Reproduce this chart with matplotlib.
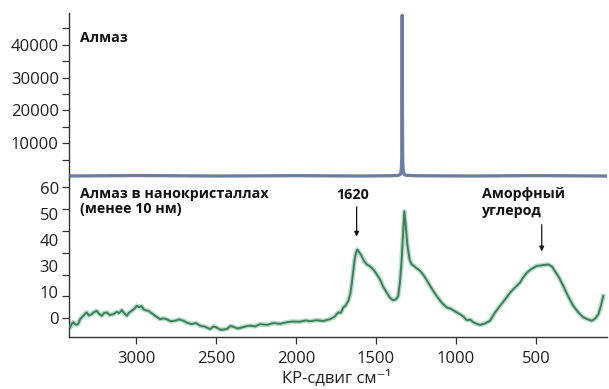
import matplotlib
matplotlib.use("Agg")
import matplotlib.pyplot as plt

plt.rcParams['font.family'] = ['Open Sans', 'DejaVu Sans']

# ---- data ----
diamond_shift = [3422, 3000, 2500, 2000, 1600, 1400, 1360, 1348, 1342, 1339, 1337, 1336,
                 1335, 1333, 1330, 1324, 1310, 1250, 900, 500, 56]
diamond_int = [0, 150, 0, 100, 0, 80, 200, 500, 1500, 5000, 20000, 49000,
               20000, 5000, 1500, 500, 200, 80, 0, 120, 0]

nano_shift = [3420, 3412, 3400, 3392, 3375, 3361, 3350, 3339, 3325, 3308, 3295, 3277, 3262, 3246,
              3230, 3214, 3200, 3183, 3165, 3142, 3120, 3105, 3089, 3075, 3058, 3045, 3027, 3010,
              2995, 2980, 2965, 2954, 2940, 2923, 2900, 2881, 2865, 2850, 2830, 2808, 2785, 2756,
              2730, 2704, 2680, 2652, 2625, 2600, 2570, 2537, 2515, 2496, 2470, 2433, 2410, 2392,
              2365, 2339, 2310, 2287, 2255, 2225, 2180, 2142, 2100, 2058, 2020, 1975, 1940, 1912,
              1871, 1830, 1787, 1760, 1736, 1720, 1704, 1690, 1673, 1660, 1652, 1642, 1635, 1625,
              1617, 1605, 1589, 1575, 1558, 1540, 1517, 1495, 1475, 1455, 1433, 1415, 1396, 1375,
              1361, 1350, 1340, 1330, 1323, 1315, 1304, 1290, 1277, 1262, 1246, 1230, 1214, 1195,
              1173, 1150, 1121, 1090, 1058, 1030, 1006, 975, 950, 933, 910, 892, 870, 850, 820,
              787, 760, 725, 695, 662, 630, 600, 580, 558, 530, 496, 460, 423, 400, 381, 355, 329,
              300, 267, 235, 204, 175, 152, 130, 110, 95, 79]
nano_int = [-2.8, -3.6, -2.0, -1.6, -2.6, -2.2, -0.5, 0.3, 1.2, 2.2, 1.0, 1.5, 2.3, 2.8,
            1.6, 0.9, 1.9, 2.2, 1.2, 1.5, 2.4, 1.9, 3.1, 2.0, 0.9, 2.0, 2.8, 3.6,
            4.7, 4.2, 4.6, 3.4, 3.0, 2.8, 1.8, 0.9, 0.2, -0.4, -0.1, -0.4, -1.2, -1.0,
            -0.5, -1.0, -1.8, -2.3, -1.9, -2.9, -3.3, -4.2, -3.2, -3.6, -4.5, -4.2, -3.0, -3.3,
            -4.0, -3.6, -3.1, -2.9, -3.2, -2.3, -2.6, -1.9, -2.2, -1.6, -1.3, -1.4, -0.9, -1.2,
            -0.8, -1.1, -0.4, 0.5, 2.2, 2.0, 4.1, 4.8, 6.6, 9.5, 13.0, 18.0, 21.9, 25.0,
            26.3, 25.3, 23.8, 22.0, 20.6, 20.0, 18.7, 16.8, 14.9, 12.0, 9.8, 8.0, 6.9, 7.2,
            8.5, 14.0, 21.9, 33.0, 41.0, 36.0, 28.2, 22.5, 20.6, 20.0, 19.1, 18.5, 17.4, 15.8,
            13.6, 11.2, 8.5, 6.0, 4.1, 3.5, 2.6, 1.5, 0.4, -0.8, -0.6, -1.6, -2.2, -2.6, -2.1,
            -1.0, 1.8, 4.7, 7.0, 9.8, 11.8, 13.6, 15.6, 17.4, 18.8, 20.0, 20.3, 20.6, 19.8, 18.0, 15.5, 12.3,
            8.5, 4.7, 2.2, 0.3, -0.5, -1.0, -0.2, 1.5, 4.5, 8.5]

top_ticks = [10000, 20000, 30000, 40000]
top_ticklabels = ['10000', '20000', '30000', '40000']
low_ticks = [0, 10, 20, 30, 40, 50]
low_ticklabels = ['0', '10', '30', '40', '50', '60']
x_ticks = [3000, 2500, 2000, 1500, 1000, 500]
x_ticklabels = ['3000', '2500', '2000', '1500', '1000', '500']

# ---- figure ----
W, H = 609, 389
fig = plt.figure(figsize=(W / 100, H / 100), dpi=100)
left = 68.5 / W
width = (607 - 68.5) / W
ax_top = fig.add_axes([left, 1 - 179 / H, width, (179 - 13) / H])
ax_low = fig.add_axes([left, 1 - 337 / H, width, (337 - 179) / H])

xlim = (3422, 56)
spine_col = '#333333'
tick_col = '#1e1e1e'
FS = 12

# top panel
ax_top.plot(diamond_shift, diamond_int, color='#7c8292', lw=2.4, solid_capstyle='butt', zorder=2)
ax_top.plot(diamond_shift, diamond_int, color='#5a7abb', lw=0.8, zorder=3)
ax_top.set_xlim(*xlim)
ax_top.set_ylim(-915, 49700)
for s in ['top', 'right', 'bottom']:
    ax_top.spines[s].set_visible(False)
ax_top.spines['left'].set_color(spine_col)
ax_top.spines['left'].set_linewidth(1.0)
ax_top.set_xticks([])
ax_top.set_yticks(top_ticks)
ax_top.set_yticklabels(top_ticklabels)
ax_top.set_yticks([5000, 15000, 25000, 35000, 45000], minor=True)
ax_top.tick_params(axis='y', which='major', length=5, width=0.9, color=spine_col,
                   labelsize=FS, labelcolor=tick_col, pad=2)
ax_top.tick_params(axis='y', which='minor', length=5, width=0.9, color=spine_col)
ax_top.text((80 - 68.5) / (607 - 68.5), (179 - 38) / 166, 'Алмаз', transform=ax_top.transAxes,
            fontsize=10.3, fontweight='bold', ha='left', va='center', color='#111111')

# lower panel
ax_low.plot(nano_shift, nano_int, color='#9ccfb2', lw=3.4, alpha=0.7, zorder=2)
ax_low.plot(nano_shift, nano_int, color='#3b7f5b', lw=1.4, zorder=3)
ax_low.set_xlim(*xlim)
ax_low.set_ylim(-7.25, 53.4)
for s in ['top', 'right']:
    ax_low.spines[s].set_visible(False)
for s in ['left', 'bottom']:
    ax_low.spines[s].set_color(spine_col)
    ax_low.spines[s].set_linewidth(1.0)
ax_low.set_yticks(low_ticks)
ax_low.set_yticklabels(low_ticklabels)
ax_low.set_yticks([0.1, 8.4, 16.7, 25.1, 33.5, 41.9, 50.3], minor=True)
ax_low.tick_params(axis='y', which='major', length=0, labelsize=FS, labelcolor=tick_col, pad=7)
ax_low.tick_params(axis='y', which='minor', length=5, width=0.9, color=spine_col)
ax_low.set_xticks(x_ticks)
ax_low.set_xticklabels(x_ticklabels)
ax_low.tick_params(axis='x', length=5, width=0.9, color=spine_col, labelsize=FS,
                   labelcolor=tick_col, pad=5)
fig.text(337 / W, 1 - 378 / H, 'КР-сдвиг см⁻¹', fontsize=FS, color=tick_col,
         ha='center', va='center')

fx = lambda px: (px - 68.5) / (607 - 68.5)
fy = lambda py: (337 - py) / 158
TFS = 10.3
ax_low.text(fx(80), fy(194), 'Алмаз в нанокристаллах', transform=ax_low.transAxes,
            fontsize=TFS, fontweight='bold', ha='left', va='center', color='#111111')
ax_low.text(fx(80), fy(209.5), '(менее 10 нм)', transform=ax_low.transAxes,
            fontsize=TFS, fontweight='bold', ha='left', va='center', color='#111111')
ax_low.text(1644, 47.4, '1620', fontsize=TFS, fontweight='bold', ha='center', va='center',
            color='#111111')
ax_low.text(839, 47.7, 'Аморфный', fontsize=TFS, fontweight='bold', ha='left', va='center',
            color='#111111')
ax_low.text(839, 41.3, 'углерод', fontsize=TFS, fontweight='bold', ha='left', va='center',
            color='#111111')
arrow = dict(arrowstyle='-|>', color='#111111', lw=0.9, mutation_scale=7, shrinkA=0, shrinkB=0)
ax_low.annotate('', xy=(1621, 31.3), xytext=(1621, 42.7), arrowprops=arrow)
ax_low.annotate('', xy=(464, 25.6), xytext=(464, 35.9), arrowprops=arrow)

fig.savefig('out.png', dpi=100)
